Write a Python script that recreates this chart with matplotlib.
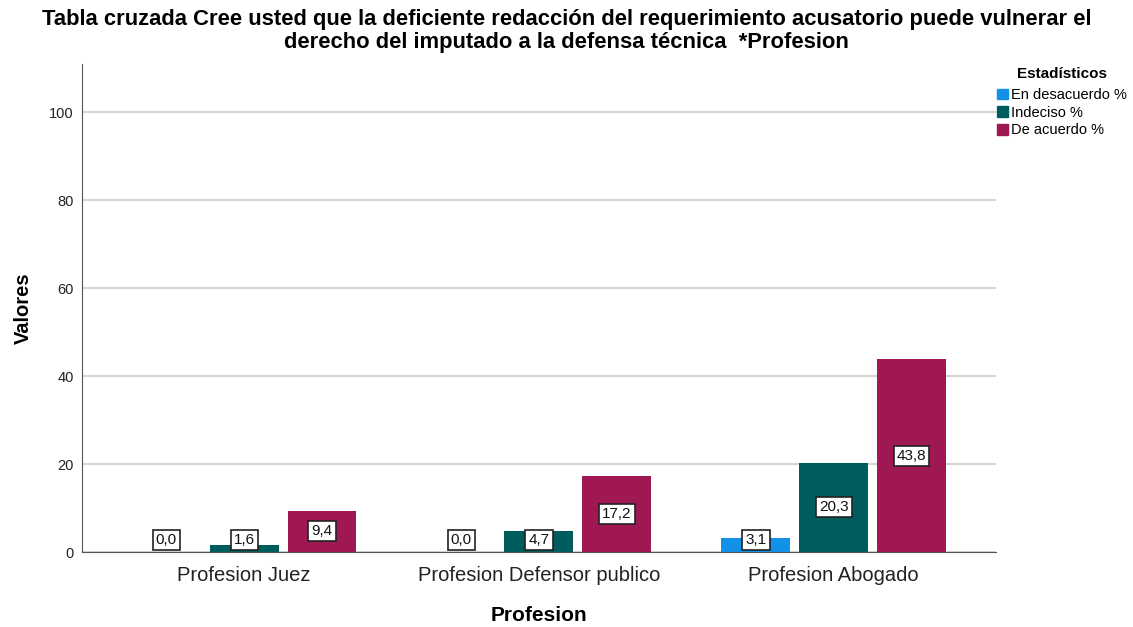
import numpy as np
import matplotlib
matplotlib.use("Agg")
import matplotlib.pyplot as plt
from matplotlib.patches import Patch

plt.rcParams['font.family'] = ['Liberation Sans', 'DejaVu Sans']

# Data
categories = ["Profesion Juez", "Profesion Defensor publico", "Profesion Abogado"]
series_names = ["En desacuerdo %", "Indeciso %", "De acuerdo %"]
en_desacuerdo = [0.0, 0.0, 3.1]
indeciso = [1.6, 4.7, 20.3]
de_acuerdo = [9.4, 17.2, 43.8]
colors = ["#1192e8", "#005d5d", "#9f1853"]

series = [en_desacuerdo, indeciso, de_acuerdo]

fig = plt.figure(figsize=(11.33, 6.27), dpi=100)
ax = fig.add_axes([0.0724, 0.1196, 0.8066, 0.7784])

x = np.arange(len(categories))
offset = 0.264
width = 0.234

for i, (vals, col) in enumerate(zip(series, colors)):
    pos = x + (i - 1) * offset
    ax.bar(pos, vals, width=width, color=col, zorder=3)
    for px, v in zip(pos, vals):
        # small bars get their label sitting on the baseline
        ypos = max(v / 2, 2.7)
        ax.text(px, ypos, f"{v:.1f}".replace(".", ","), ha="center", va="center",
                fontsize=11, color="#111111", zorder=5,
                bbox=dict(boxstyle="square,pad=0.2", fc="white", ec="#222222", lw=1.2))

ax.set_xlim(-0.55, 2.55)
ax.set_ylim(0, 111)
ax.set_yticks([0, 20, 40, 60, 80, 100])
ax.set_xticks(x)
ax.set_xticklabels(categories, fontsize=14.5, color="#222222")
ax.tick_params(axis="x", length=0, pad=10)
ax.tick_params(axis="y", length=0, labelsize=10.5, pad=6, colors="#222222")
ax.yaxis.grid(True, color="#cccccc", lw=1.2, zorder=0)
for s in ["top", "right"]:
    ax.spines[s].set_visible(False)
for s in ["left", "bottom"]:
    ax.spines[s].set_color("#555555")

ax.set_ylabel("Valores", fontsize=14.5, fontweight="bold", labelpad=12)
ax.set_xlabel("Profesion", fontsize=15, fontweight="bold", labelpad=15)

fig.text(0.5, 0.985,
         "Tabla cruzada Cree usted que la deficiente redacción del requerimiento acusatorio puede vulnerar el\n"
         "derecho del imputado a la defensa técnica  *Profesion",
         ha="center", va="top", fontsize=15.8, fontweight="bold", linespacing=1.08)

handles = [Patch(facecolor=c, edgecolor=c) for c in colors]
leg = fig.legend(handles, series_names, loc="upper left", bbox_to_anchor=(0.88, 0.893),
                 title="Estadísticos", frameon=False, fontsize=10.5,
                 handlelength=0.75, handleheight=0.75, handletextpad=0.2,
                 labelspacing=0.25, borderaxespad=0, borderpad=0)
leg.get_title().set_fontweight("bold")
leg.get_title().set_fontsize(11)
leg._legend_box.sep = 5

fig.savefig("out.png", dpi=100)
